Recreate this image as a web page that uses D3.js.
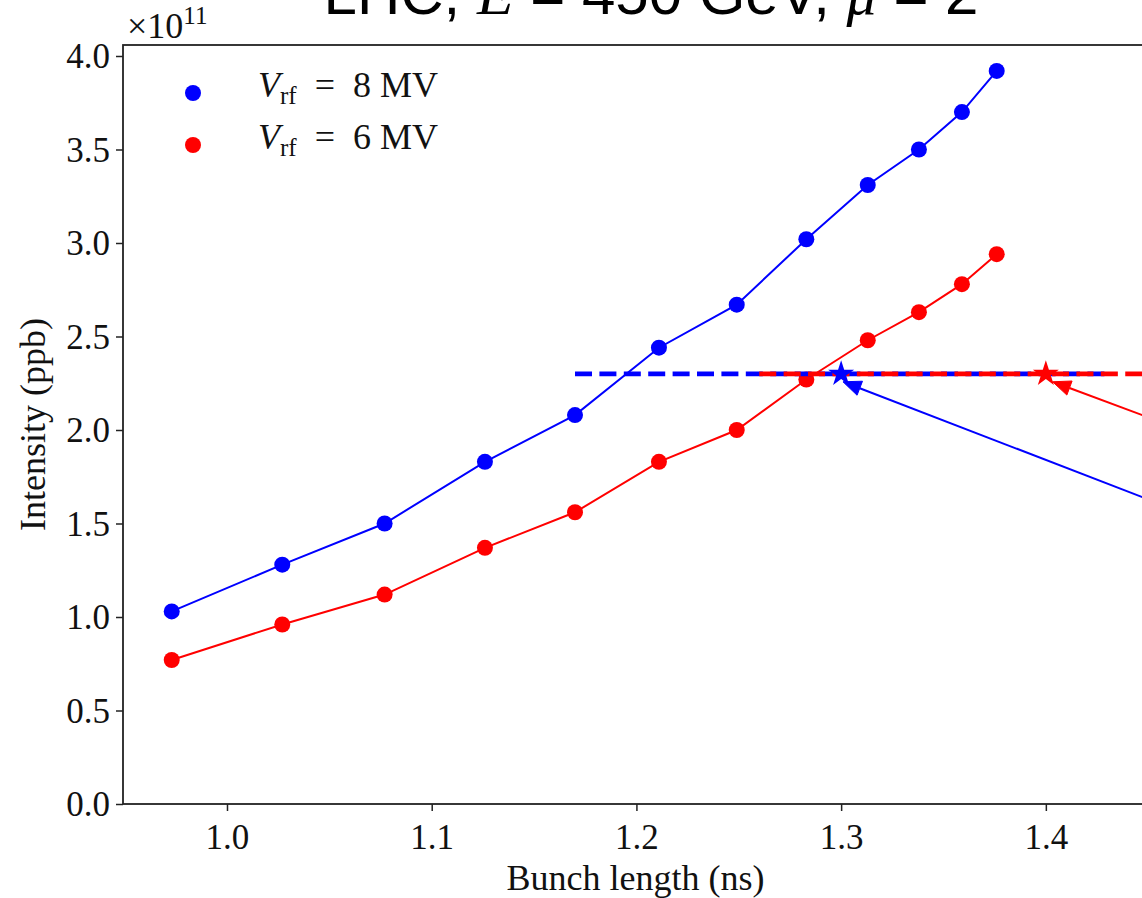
<!DOCTYPE html>
<html>
<head>
<meta charset="utf-8">
<script src="https://cdn.jsdelivr.net/npm/d3@7"></script>
<style>
  html, body { margin: 0; padding: 0; background: #fff; overflow: hidden; }
  svg { display: block; }
</style>
</head>
<body>
<svg id="chart" width="1142" height="898"></svg>
<script>
// Bunch length (ns) of each measured point, shared by both RF voltages
const bunchLength = [0.973, 1.027, 1.077, 1.126, 1.170, 1.211, 1.249, 1.283, 1.313, 1.338, 1.359, 1.376];
// Intensity limit (units of 1e11 ppb)
const intensity8MV = [1.03, 1.28, 1.50, 1.83, 2.08, 2.44, 2.67, 3.02, 3.31, 3.50, 3.70, 3.92];
const intensity6MV = [0.77, 0.96, 1.12, 1.37, 1.56, 1.83, 2.00, 2.27, 2.48, 2.63, 2.78, 2.94];

const seriesNames = ["8", "6"];
const seriesColors = ["#0000ff", "#ff0000"];

// Target intensity and operating points
const targetIntensity = 2.3;
const operatingLength = [1.30, 1.40];
const targetSpan = [[1.17, 1.43], [1.26, 1.54]];
// arrow tails (data coords), pointing back to the operating points
const arrowTail = [[1.50, 1.418], [1.50, 1.864]];
const arrowTip = [[1.3009, 2.258], [1.4033, 2.258]];

const xTicks = [1.0, 1.1, 1.2, 1.3, 1.4];
const yTicks = [0.0, 0.5, 1.0, 1.5, 2.0, 2.5, 3.0, 3.5, 4.0];

const svg = d3.select("#chart");
const plotLeft = 123, plotRight = 1148, plotTop = 45, plotBottom = 804;

const x = d3.scaleLinear().domain([0.9492, 1.4499]).range([plotLeft, plotRight]);
const y = d3.scaleLinear().domain([0, 4.0588]).range([plotBottom, plotTop]);

const serif = "'Liberation Serif', 'DejaVu Serif', serif";
const ink = "#222";

svg.append("defs").append("clipPath").attr("id", "plotArea")
  .append("rect").attr("x", plotLeft).attr("y", plotTop)
  .attr("width", plotRight - plotLeft).attr("height", plotBottom - plotTop);

// axes
const xAxis = svg.append("g").attr("transform", `translate(0,${plotBottom})`)
  .call(d3.axisBottom(x).tickValues(xTicks).tickFormat(d3.format(".1f")).tickSize(7).tickPadding(8));
const yAxis = svg.append("g").attr("transform", `translate(${plotLeft},0)`)
  .call(d3.axisLeft(y).tickValues(yTicks).tickFormat(d3.format(".1f")).tickSize(7).tickPadding(6));
[xAxis, yAxis].forEach(g => {
  g.select(".domain").remove();
  g.selectAll(".tick line").attr("stroke", ink).attr("stroke-width", 1.5);
  g.selectAll(".tick text").attr("fill", "#111").attr("font-family", serif).attr("font-size", 35);
});
xAxis.selectAll(".tick text").attr("dy", "0.85em");
yAxis.selectAll(".tick text").attr("dy", "0.34em");

// frame
svg.append("rect").attr("x", plotLeft).attr("y", plotTop)
  .attr("width", plotRight - plotLeft).attr("height", plotBottom - plotTop)
  .attr("fill", "none").attr("stroke", ink).attr("stroke-width", 1.8);

// offset text for the y axis
const off = svg.append("text").attr("x", 127).attr("y", 38)
  .attr("font-family", serif).attr("font-size", 36).attr("fill", "#111");
off.append("tspan").text("×10");
off.append("tspan").attr("font-size", 25).attr("dy", -14).text("11");

// axis labels
svg.append("text").attr("x", (plotLeft + plotRight) / 2).attr("y", 890)
  .attr("text-anchor", "middle").attr("font-family", serif).attr("font-size", 36)
  .attr("fill", "#111").text("Bunch length (ns)");
svg.append("text").attr("transform", `translate(45,${(plotTop + plotBottom) / 2}) rotate(-90)`)
  .attr("text-anchor", "middle").attr("font-family", serif).attr("font-size", 36)
  .attr("fill", "#111").text("Intensity (ppb)");

// title
const title = svg.append("text").attr("x", 651).attr("y", 14).attr("text-anchor", "middle")
  .attr("font-family", "'Liberation Sans', Arial, sans-serif").attr("font-size", 60).attr("fill", "#000");
title.append("tspan").text("LHC, ");
title.append("tspan").attr("font-style", "italic").attr("font-family", serif).text("E");
title.append("tspan").text(" = 450 GeV, ");
title.append("tspan").attr("font-style", "italic").attr("font-family", serif).text("μ");
title.append("tspan").text(" = 2");

const plot = svg.append("g").attr("clip-path", "url(#plotArea)");
const line = d3.line().x(d => x(d[0])).y(d => y(d[1]));

[intensity8MV, intensity6MV].forEach((vals, i) => {
  const pts = bunchLength.map((b, k) => [b, vals[k]]);
  plot.append("path").datum(pts).attr("d", line)
    .attr("fill", "none").attr("stroke", seriesColors[i]).attr("stroke-width", 2);
  plot.selectAll(null).data(pts).join("circle")
    .attr("cx", d => x(d[0])).attr("cy", d => y(d[1])).attr("r", 8)
    .attr("fill", seriesColors[i]);
});

// target intensity lines
targetSpan.forEach((span, i) => {
  plot.append("path").datum(span.map(v => [v, targetIntensity])).attr("d", line)
    .attr("fill", "none").attr("stroke", seriesColors[i]).attr("stroke-width", 4.6)
    .attr("stroke-dasharray", "17 7.4");
});

// operating points
const star = d3.symbol().type(d3.symbolStar).size(210);
operatingLength.forEach((b, i) => {
  plot.append("path").attr("d", star)
    .attr("transform", `translate(${x(b)},${y(targetIntensity)})`)
    .attr("fill", seriesColors[i]);
});

// annotation arrows
arrowTail.forEach((tail, i) => {
  const x0 = x(tail[0]), y0 = y(tail[1]);
  const x1 = x(arrowTip[i][0]), y1 = y(arrowTip[i][1]);
  const len = Math.hypot(x1 - x0, y1 - y0);
  const ux = (x1 - x0) / len, uy = (y1 - y0) / len;
  const headLen = 18, headHalf = 7.5;
  const bx = x1 - ux * headLen, by = y1 - uy * headLen;
  svg.append("line").attr("x1", x0).attr("y1", y0).attr("x2", bx).attr("y2", by)
    .attr("stroke", seriesColors[i]).attr("stroke-width", 2);
  svg.append("path")
    .attr("d", `M${x1},${y1}L${bx - uy * headHalf},${by + ux * headHalf}L${bx + uy * headHalf},${by - ux * headHalf}Z`)
    .attr("fill", seriesColors[i]).attr("stroke", seriesColors[i]).attr("stroke-width", 1);
});

// legend
seriesNames.forEach((v, i) => {
  const cy = 93 + i * 52;
  svg.append("circle").attr("cx", 193).attr("cy", cy).attr("r", 8).attr("fill", seriesColors[i]);
  const t = svg.append("text").attr("x", 258).attr("y", cy + 4)
    .attr("font-family", serif).attr("font-size", 36).attr("fill", "#111");
  t.append("tspan").attr("font-style", "italic").text("V");
  t.append("tspan").attr("font-size", 25).attr("dy", 7).text("rf");
  t.append("tspan").attr("dy", -7).text(`\u2002=\u2002${v} MV`);
});
</script>
</body>
</html>
